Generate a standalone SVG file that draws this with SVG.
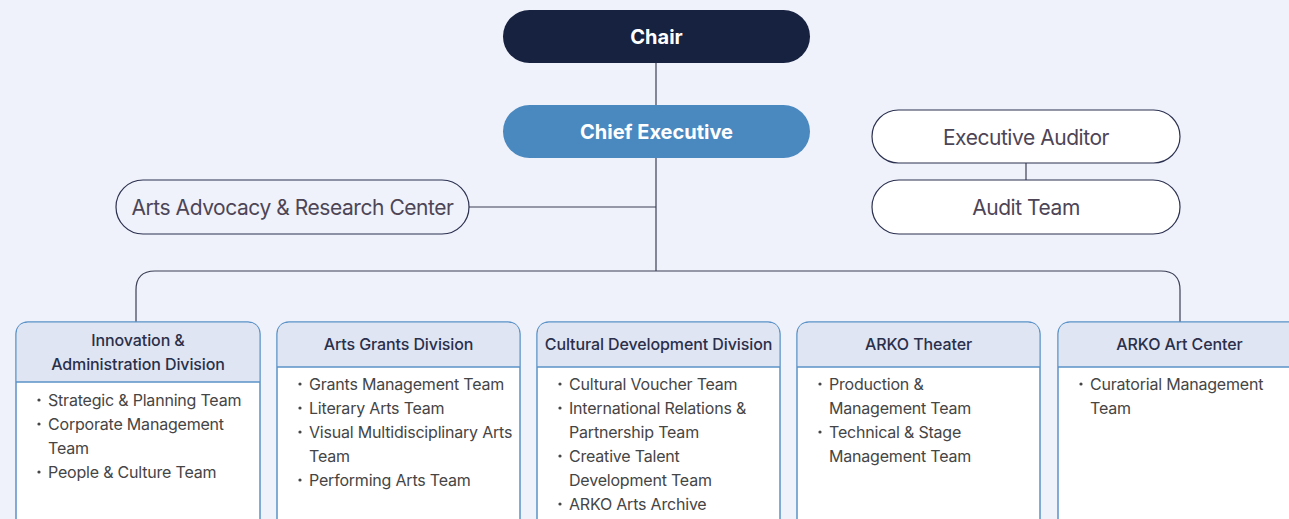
<svg xmlns="http://www.w3.org/2000/svg" width="1289" height="519" viewBox="0 0 1289 519">
  <style>
    .pill-text { font-family: Inter, "Noto Sans", sans-serif; text-anchor: middle; dominant-baseline: central; }
    .lead { fill: #ffffff; font-size: 20px; font-weight: 700; }
    .side { fill: #4d4556; font-size: 21px; font-weight: 400; letter-spacing: -0.45px; }
    .outline { stroke: #2c3150; stroke-width: 1.2; }
    .conn { fill: none; stroke: #3b3f55; stroke-width: 1.2; }
    .div-box { fill: #ffffff; stroke: #5b92c8; stroke-width: 1.5; }
    .div-head { fill: #dfe5f3; }
    .div-rule { stroke: #5b92c8; stroke-width: 1.5; }
    .div-title { font-family: Inter, "Noto Sans", sans-serif; font-size: 16px; font-weight: 500; fill: #2a2f4a; text-anchor: middle; letter-spacing: -0.1px; }
    .item { font-family: Inter, "Noto Sans", sans-serif; font-size: 16px; fill: #454545; letter-spacing: -0.2px; }
    .dot { fill: #454545; }
  </style>
  <rect width="1289" height="519" fill="#eff2fa"/>

  <g id="connectors">
    <line class="conn" x1="656" y1="63" x2="656" y2="105"/>
    <line class="conn" x1="656" y1="158" x2="656" y2="271"/>
    <line class="conn" x1="469" y1="207" x2="656" y2="207"/>
    <line class="conn" x1="1026" y1="163" x2="1026" y2="180"/>
    <path class="conn" d="M136 322 V290 Q136 271 155 271 H1161 Q1180 271 1180 290 V322"/>
  </g>

  <g id="chair">
    <rect x="503" y="10" width="307" height="53" rx="26.5" fill="#172241"/>
    <text class="pill-text lead" x="656.5" y="37">Chair</text>
  </g>
  <g id="chief-executive">
    <rect x="503" y="105" width="307" height="53" rx="26.5" fill="#4a88c0"/>
    <text class="pill-text lead" x="656.5" y="132">Chief Executive</text>
  </g>
  <g id="arts-advocacy">
    <rect class="outline" x="116" y="180" width="353" height="54" rx="27" fill="#eff2fa"/>
    <text class="pill-text side" x="292.5" y="207">Arts Advocacy &amp; Research Center</text>
  </g>
  <g id="executive-auditor">
    <rect class="outline" x="872" y="110" width="308" height="53" rx="26.5" fill="#ffffff"/>
    <text class="pill-text side" x="1026" y="137">Executive Auditor</text>
  </g>
  <g id="audit-team">
    <rect class="outline" x="872" y="180" width="308" height="54" rx="27" fill="#ffffff"/>
    <text class="pill-text side" x="1026" y="207">Audit Team</text>
  </g>

  <g id="innovation-administration">
    <rect class="div-box" x="16" y="322" width="244" height="220" rx="12"/>
    <path class="div-head" d="M16.75 382 V334 Q16.75 322.75 28 322.75 H248 Q259.25 322.75 259.25 334 V382 Z"/>
    <line class="div-rule" x1="16" y1="382" x2="260" y2="382"/>
    <text class="div-title" x="138" y="346">Innovation &amp;</text>
    <text class="div-title" x="138" y="370">Administration Division</text>
    <circle class="dot" cx="39" cy="400" r="1.6"/>
    <text class="item" x="48" y="406">Strategic &amp; Planning Team</text>
    <circle class="dot" cx="39" cy="424" r="1.6"/>
    <text class="item" x="48" y="430">Corporate Management</text>
    <text class="item" x="48" y="454">Team</text>
    <circle class="dot" cx="39" cy="472" r="1.6"/>
    <text class="item" x="48" y="478">People &amp; Culture Team</text>
  </g>

  <g id="arts-grants">
    <rect class="div-box" x="277" y="322" width="243" height="220" rx="12"/>
    <path class="div-head" d="M277.75 367 V334 Q277.75 322.75 289 322.75 H508 Q519.25 322.75 519.25 334 V367 Z"/>
    <line class="div-rule" x1="277" y1="367" x2="520" y2="367"/>
    <text class="div-title" x="398.5" y="350">Arts Grants Division</text>
    <circle class="dot" cx="300" cy="384" r="1.6"/>
    <text class="item" x="309" y="390">Grants Management Team</text>
    <circle class="dot" cx="300" cy="408" r="1.6"/>
    <text class="item" x="309" y="414">Literary Arts Team</text>
    <circle class="dot" cx="300" cy="432" r="1.6"/>
    <text class="item" x="309" y="438">Visual Multidisciplinary Arts</text>
    <text class="item" x="309" y="462">Team</text>
    <circle class="dot" cx="300" cy="480" r="1.6"/>
    <text class="item" x="309" y="486">Performing Arts Team</text>
  </g>

  <g id="cultural-development">
    <rect class="div-box" x="537" y="322" width="243" height="220" rx="12"/>
    <path class="div-head" d="M537.75 367 V334 Q537.75 322.75 549 322.75 H768 Q779.25 322.75 779.25 334 V367 Z"/>
    <line class="div-rule" x1="537" y1="367" x2="780" y2="367"/>
    <text class="div-title" x="658.5" y="350">Cultural Development Division</text>
    <circle class="dot" cx="560" cy="384" r="1.6"/>
    <text class="item" x="569" y="390">Cultural Voucher Team</text>
    <circle class="dot" cx="560" cy="408" r="1.6"/>
    <text class="item" x="569" y="414">International Relations &amp;</text>
    <text class="item" x="569" y="438">Partnership Team</text>
    <circle class="dot" cx="560" cy="456" r="1.6"/>
    <text class="item" x="569" y="462">Creative Talent</text>
    <text class="item" x="569" y="486">Development Team</text>
    <circle class="dot" cx="560" cy="504" r="1.6"/>
    <text class="item" x="569" y="510">ARKO Arts Archive</text>
  </g>

  <g id="arko-theater">
    <rect class="div-box" x="797" y="322" width="243" height="220" rx="12"/>
    <path class="div-head" d="M797.75 367 V334 Q797.75 322.75 809 322.75 H1028 Q1039.25 322.75 1039.25 334 V367 Z"/>
    <line class="div-rule" x1="797" y1="367" x2="1040" y2="367"/>
    <text class="div-title" x="918.5" y="350">ARKO Theater</text>
    <circle class="dot" cx="820" cy="384" r="1.6"/>
    <text class="item" x="829" y="390">Production &amp;</text>
    <text class="item" x="829" y="414">Management Team</text>
    <circle class="dot" cx="820" cy="432" r="1.6"/>
    <text class="item" x="829" y="438">Technical &amp; Stage</text>
    <text class="item" x="829" y="462">Management Team</text>
  </g>

  <g id="arko-art-center">
    <rect class="div-box" x="1058" y="322" width="243" height="220" rx="12"/>
    <path class="div-head" d="M1058.75 367 V334 Q1058.75 322.75 1070 322.75 H1289 Q1300.25 322.75 1300.25 334 V367 Z"/>
    <line class="div-rule" x1="1058" y1="367" x2="1301" y2="367"/>
    <text class="div-title" x="1179.5" y="350">ARKO Art Center</text>
    <circle class="dot" cx="1081" cy="384" r="1.6"/>
    <text class="item" x="1090" y="390">Curatorial Management</text>
    <text class="item" x="1090" y="414">Team</text>
  </g>
</svg>
